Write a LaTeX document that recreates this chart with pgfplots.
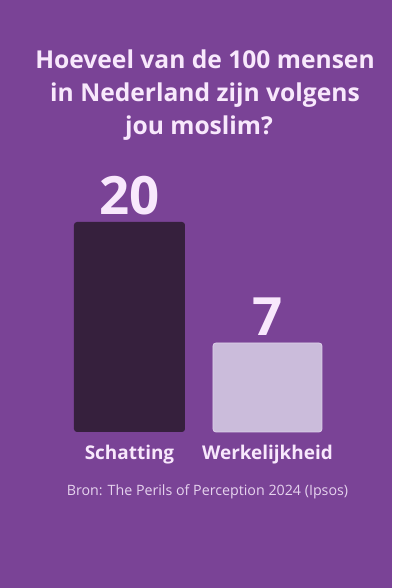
\documentclass[border=0pt]{standalone}
\usepackage{fontspec}
\setmainfont{Open Sans}
\usepackage{pgfplots}
\usepackage{pgfplotstable}
\pgfplotsset{compat=1.18}
\definecolor{bg}{HTML}{7A4396}
\definecolor{barA}{HTML}{36203D}
\definecolor{barB}{HTML}{CBBCDB}
\definecolor{barBedge}{HTML}{DDD0EA}
\definecolor{txt}{HTML}{F8E8FC}
\definecolor{src}{HTML}{E6D3EE}
\pgfplotstableread{
x v
0 20
}\dataA
\pgfplotstableread{
x v
1 7
}\dataB
\begin{document}
\begin{tikzpicture}[x=1bp,y=1bp]
\fill[bg] (0,0) rectangle (392,588);
\node[anchor=base, text=txt, font=\fontsize{24.7}{28}\selectfont\bfseries] at (205,519) {Hoeveel van de 100 mensen};
\node[anchor=base, text=txt, font=\fontsize{24.7}{28}\selectfont\bfseries] at (205,486) {in Nederland zijn volgens};
\node[anchor=base, text=txt, font=\fontsize{24.7}{28}\selectfont\bfseries] at (199,453) {jou moslim?};
\begin{axis}[
  at={(74bp,156bp)}, anchor=south west,
  scale only axis, width=248bp, height=210bp,
  xmin=-0.402, xmax=1.395, ymin=0, ymax=22.562,
  axis line style={draw=none}, major tick length=0pt,
  ytick=\empty, xtick={0,1}, xticklabels={Schatting,Werkelijkheid},
  xticklabel style={anchor=base, yshift=-28bp, text=txt, font=\fontsize{19}{24}\selectfont\bfseries},
  clip=false,
  /pgf/number format/assume math mode=true,
  point meta=explicit,
  nodes near coords,
  every node near coord/.append style={anchor=base, yshift=7bp, text=txt, font=\fontsize{53}{53}\selectfont\bfseries},
]
\addplot[ybar, bar shift=0pt, bar width=111bp, fill=barA, draw=none, rounded corners=3bp]
  table[x=x, y expr=\thisrow{v}+2.562, meta=v]{\dataA};
\addplot[ybar, bar shift=0pt, bar width=109bp, fill=barB, draw=barBedge, line width=0.8bp, rounded corners=3bp]
  table[x=x, y expr=\thisrow{v}+2.562, meta=v]{\dataB};
\end{axis}
\node[anchor=base, text=src, font=\fontsize{14.3}{16}\selectfont] at (207.5,92) {Bron: The Perils of Perception 2024 (Ipsos)};
\end{tikzpicture}
\end{document}
